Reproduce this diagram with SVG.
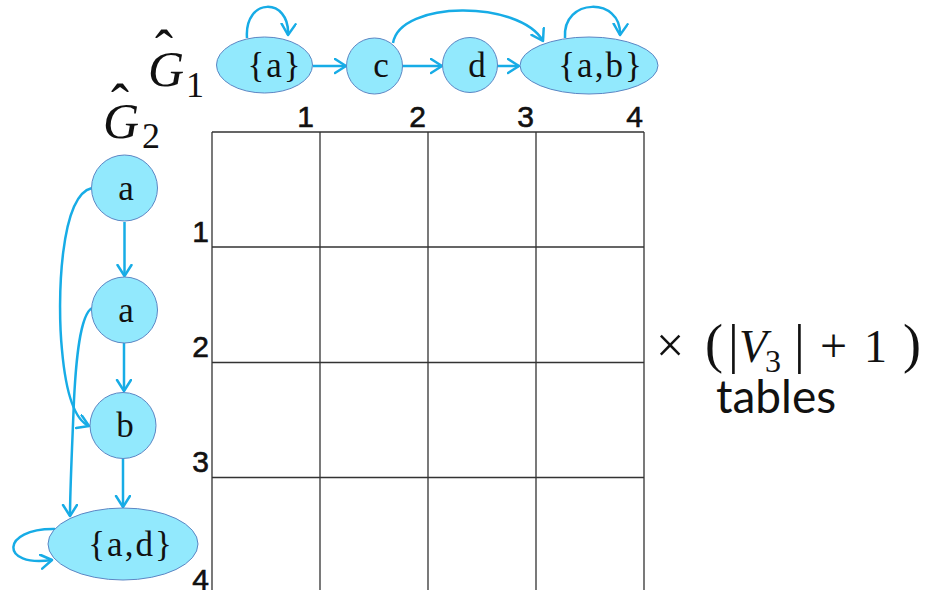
<svg xmlns="http://www.w3.org/2000/svg" width="931" height="590" viewBox="0 0 931 590">
<defs>
<marker id="arr" markerUnits="userSpaceOnUse" markerWidth="18" markerHeight="18" refX="12" refY="8" orient="auto">
<path d="M1,1 L12,8 L1,15" fill="none" stroke="#17ace6" stroke-width="2.5" stroke-linecap="round" stroke-linejoin="round"/>
</marker>
<style>
.node{fill:#92e9fd;stroke:#5c86c4;stroke-width:1}
.lbl{font-family:"Liberation Serif","DejaVu Serif",serif;font-size:35px;fill:#111;text-anchor:middle;letter-spacing:2px}
.edge{fill:none;stroke:#17ace6;stroke-width:2.5;marker-end:url(#arr)}
.grid{stroke:#333;stroke-width:1.3;fill:none}
.num{font-family:"Liberation Sans Narrow","Liberation Sans",sans-serif;font-size:30px;fill:#111;text-anchor:end;stroke:#111;stroke-width:0.6}
.gi{font-family:"Liberation Serif","DejaVu Serif",serif;font-style:italic;font-size:50px;fill:#111}
.gs{font-family:"Liberation Serif","DejaVu Serif",serif;font-size:36px;fill:#111}
.hat{font-family:"Liberation Serif","DejaVu Serif",serif;font-size:54px;fill:#111}
.math{font-family:"Liberation Serif","DejaVu Serif",serif;font-size:46px;fill:#111}
.tab{font-family:Lato,"Noto Sans",sans-serif;font-size:46px;fill:#111}
</style>
</defs>
<rect width="931" height="590" fill="#fff"/>

<g id="grid">
<path class="grid" d="M212,132 H644 M212,247 H644 M212,362.5 H644 M212,477.5 H644 M212,132 V590 M320,132 V590 M428,132 V590 M536,132 V590 M644,132 V590"/>
<text class="num" x="314" y="127">1</text>
<text class="num" x="426" y="127">2</text>
<text class="num" x="534" y="127">3</text>
<text class="num" x="643" y="127">4</text>
<text class="num" x="209" y="242">1</text>
<text class="num" x="209" y="357">2</text>
<text class="num" x="209" y="472">3</text>
<text class="num" x="209" y="590">4</text>
</g>

<g id="labels">
<text class="hat" x="155" y="68">ˆ</text>
<text class="gi" x="148" y="86">G</text>
<text class="gs" x="186" y="97">1</text>
<text class="hat" x="111" y="122">ˆ</text>
<text class="gi" x="103" y="138">G</text>
<text class="gs" x="142" y="148">2</text>
</g>

<g id="connectors">
<path class="edge" d="M247,38 C244,-3 290,-3 288,35"/>
<path class="edge" d="M565,38 C562,-3 622,-3 620,35"/>
<path class="edge" d="M393,43 C400,0 520,0 543,41"/>
<path class="edge" d="M313,66 L346,66"/>
<path class="edge" d="M402,66 L442,66"/>
<path class="edge" d="M497,66 L519,66"/>
<path class="edge" d="M124.5,222 L124.5,276"/>
<path class="edge" d="M124,343 L124,391"/>
<path class="edge" d="M123,459 L123,507"/>
<path class="edge" d="M92,188 C60,195 57,300 62,350 C66,395 75,420 89,426"/>
<path class="edge" d="M92,308 C80,315 76,360 74,400 C72,450 70,490 70,516"/>
<path class="edge" d="M55,529 C0,528 0,568 52,560"/>
</g>

<g id="n_a1"><ellipse class="node" cx="264.5" cy="65" rx="48" ry="28"/><text class="lbl" x="275" y="77">{a}</text></g>
<g id="n_c"><circle class="node" cx="374.5" cy="66" r="28"/><text class="lbl" x="382" y="77">c</text></g>
<g id="n_d"><circle class="node" cx="470" cy="65" r="27.5"/><text class="lbl" x="478" y="77">d</text></g>
<g id="n_ab"><ellipse class="node" cx="589" cy="65.5" rx="69" ry="28.5"/><text class="lbl" x="601" y="77">{a,b}</text></g>

<g id="m_a1"><circle class="node" cx="124.5" cy="188" r="33"/><text class="lbl" x="127" y="200">a</text></g>
<g id="m_a2"><circle class="node" cx="124.5" cy="310" r="33"/><text class="lbl" x="127" y="322">a</text></g>
<g id="m_b"><circle class="node" cx="123" cy="425.5" r="33"/><text class="lbl" x="126" y="437">b</text></g>
<g id="m_ad"><ellipse class="node" cx="123" cy="544" rx="75" ry="36"/><text class="lbl" x="131" y="556">{a,d}</text></g>

<g id="note">
<text class="math" y="362"><tspan x="656" font-size="50">×</tspan><tspan x="705" font-size="54">(</tspan><tspan x="728" font-size="54">|</tspan><tspan x="739" font-style="italic">V</tspan><tspan x="765" y="372" font-size="32">3</tspan><tspan x="794" y="362" font-size="54">|</tspan><tspan x="820" font-size="48">+</tspan><tspan x="864">1</tspan><tspan x="903" font-size="54">)</tspan></text>
<text class="tab" x="716" y="413">tables</text>
</g>
</svg>
